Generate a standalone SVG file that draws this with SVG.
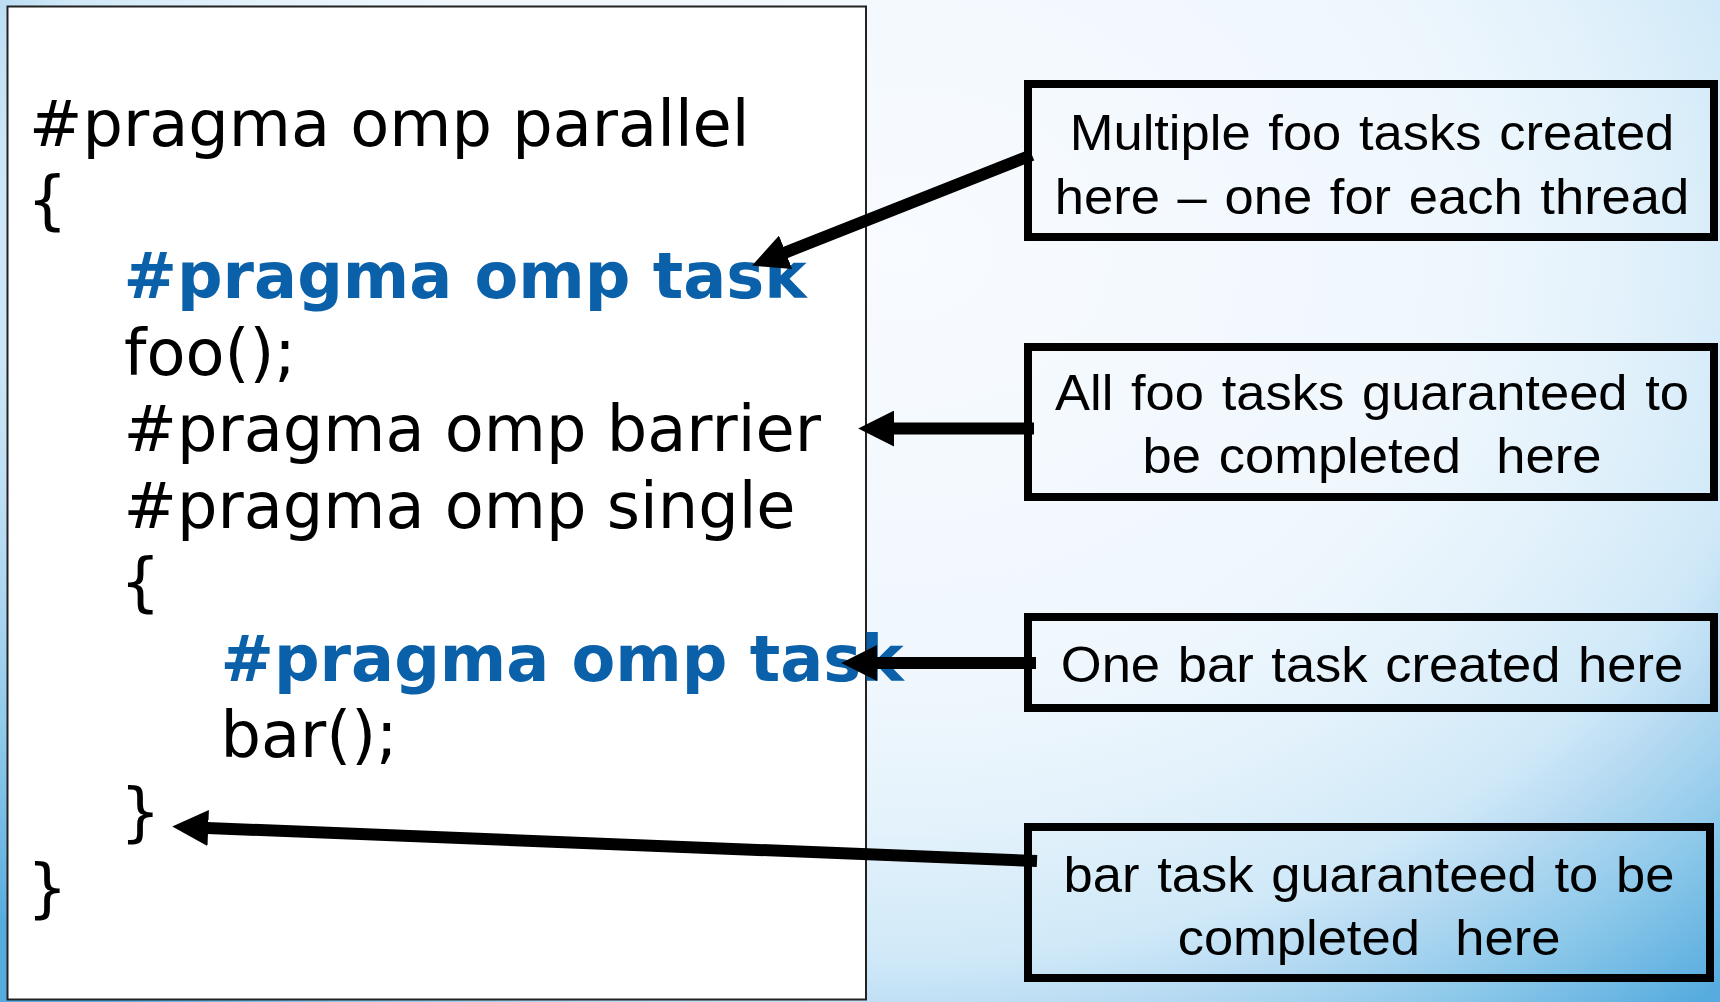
<svg xmlns="http://www.w3.org/2000/svg" width="1720" height="1002" viewBox="0 0 1720 1002">
  <defs>
    <radialGradient id="bg" gradientUnits="userSpaceOnUse" cx="900" cy="250" r="1230" gradientTransform="translate(900 250) scale(1 0.8) translate(-900 -250)">
      <stop offset="0" stop-color="#f8fbff"/>
      <stop offset="0.45" stop-color="#eff7fd"/>
      <stop offset="0.58" stop-color="#e4f2fb"/>
      <stop offset="0.72" stop-color="#d0e9f8"/>
      <stop offset="0.78" stop-color="#badcf3"/>
      <stop offset="0.88" stop-color="#8ec9ea"/>
      <stop offset="1" stop-color="#57acdf"/>
    </radialGradient>
    <marker id="ah" markerUnits="strokeWidth" markerWidth="3" markerHeight="3" viewBox="0 0 3 3" refX="0.1" refY="1.5" orient="auto">
      <path d="M0,0 L3,1.5 L0,3 z" fill="#000"/>
    </marker>
    <style>
      .code { font-family: "DejaVu Sans", Verdana, sans-serif; font-size: 63.8px; fill: #000; }
      .kw { font-family: "DejaVu Sans", Verdana, sans-serif; font-size: 63.8px; font-weight: bold; fill: #0a61a9; }
      .note { fill: none; stroke: #000; stroke-width: 8; }
      .lbl { font-family: "Liberation Sans", Arial, sans-serif; font-size: 50px; word-spacing: 3px; fill: #000; text-anchor: middle; }
      .conn { stroke: #000; stroke-width: 12; fill: none; marker-end: url(#ah); }
    </style>
  </defs>

  <!-- slide background -->
  <rect x="0" y="0" width="1720" height="1002" fill="url(#bg)"/>

  <!-- code listing -->
  <g id="code">
    <rect x="7.5" y="6.5" width="858.5" height="993" fill="#fff" stroke="#222" stroke-width="2"/>
    <text class="code" x="29" y="146">#pragma omp parallel</text>
    <text class="code" x="27" y="222">{</text>
    <text class="kw" x="123.5" y="298">#pragma omp task</text>
    <text class="code" x="124" y="375">foo();</text>
    <text class="code" x="123.5" y="451">#pragma omp barrier</text>
    <text class="code" x="123.5" y="528">#pragma omp single</text>
    <text class="code" x="120" y="604">{</text>
    <text class="kw" x="220.5" y="681">#pragma omp task</text>
    <text class="code" x="220.5" y="757">bar();</text>
    <text class="code" x="120" y="834">}</text>
    <text class="code" x="27" y="910">}</text>
  </g>

  <!-- annotation boxes -->
  <g id="note-foo-created">
    <rect class="note" x="1028" y="84" width="686" height="153"/>
    <text class="lbl" transform="translate(1372 150) scale(1.05 1)">Multiple foo tasks created</text>
    <text class="lbl" transform="translate(1372 214) scale(1.05 1)">here – one for each thread</text>
  </g>
  <g id="note-foo-done">
    <rect class="note" x="1028" y="347" width="686" height="150"/>
    <text class="lbl" transform="translate(1372 410) scale(1.05 1)">All foo tasks guaranteed to</text>
    <text class="lbl" xml:space="preserve" transform="translate(1372 473) scale(1.05 1)">be completed  here</text>
  </g>
  <g id="note-bar-created">
    <rect class="note" x="1028" y="617" width="686" height="91"/>
    <text class="lbl" transform="translate(1372 682) scale(1.05 1)">One bar task created here</text>
  </g>
  <g id="note-bar-done">
    <rect class="note" x="1028" y="827" width="682" height="151"/>
    <text class="lbl" transform="translate(1369 892) scale(1.05 1)">bar task guaranteed to be</text>
    <text class="lbl" xml:space="preserve" transform="translate(1369 955) scale(1.05 1)">completed  here</text>
  </g>

  <!-- connectors -->
  <g id="connectors">
    <line class="conn" x1="1032" y1="155" x2="784.5" y2="252.8"/>
    <line class="conn" x1="1034" y1="428.5" x2="893" y2="428.5"/>
    <line class="conn" x1="1036" y1="663" x2="876" y2="663"/>
    <line class="conn" x1="1037" y1="861" x2="207" y2="828"/>
  </g>
</svg>
